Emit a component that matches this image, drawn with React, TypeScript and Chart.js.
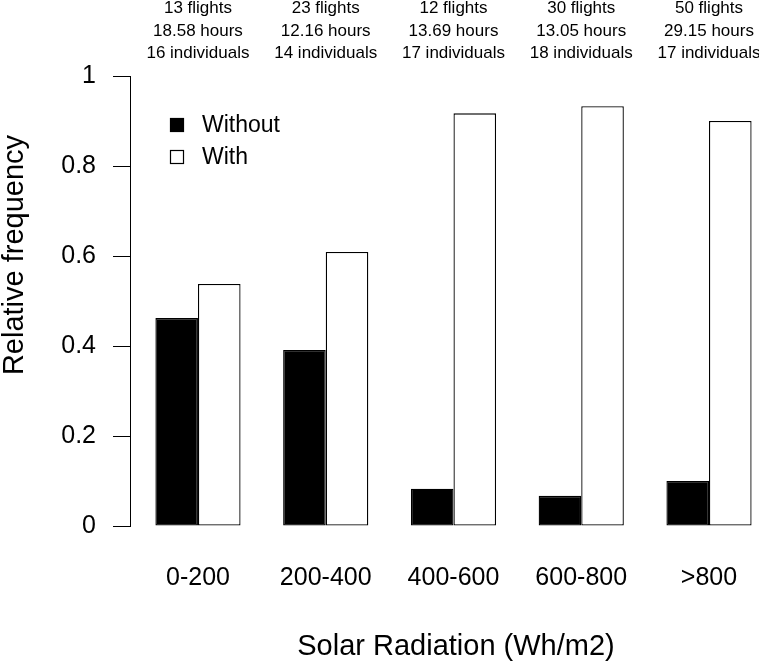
import React, { useEffect, useRef } from "react";
import { Chart, registerables } from "chart.js";

Chart.register(...registerables);

const categories = ["0-200", "200-400", "400-600", "600-800", ">800"];
const withoutValues = [0.462, 0.391, 0.083, 0.067, 0.1];
const withValues = [0.538, 0.609, 0.917, 0.933, 0.9];
const flights = [13, 23, 12, 30, 50];
const hours = ["18.58", "12.16", "13.69", "13.05", "29.15"];
const individuals = [16, 14, 17, 18, 17];
const yTicks = [0, 0.2, 0.4, 0.6, 0.8, 1];
const seriesNames = ["Without", "With"];
const xTitle = "Solar Radiation (Wh/m2)";
const yTitle = "Relative frequency";

const FONT = "'Liberation Sans', Arial, Helvetica, sans-serif";

const positions = categories.map((_, i) => i + 1);

const titlesAndLegend = {
  id: "titlesAndLegend",
  afterDraw(chart: any) {
    const { ctx, chartArea } = chart;
    ctx.save();
    ctx.fillStyle = "#000";
    // y title
    ctx.font = `29px ${FONT}`;
    ctx.textAlign = "center";
    ctx.textBaseline = "middle";
    ctx.save();
    ctx.translate(15, chartArea.top + 179);
    ctx.rotate(-Math.PI / 2);
    ctx.fillText(yTitle, 0, 0);
    ctx.restore();
    // x title
    ctx.fillText(xTitle, chartArea.left + 326, 647);
    // legend
    const lx = chartArea.left + 40;
    const rows = [chartArea.top + 49, chartArea.top + 81];
    const fills = ["#000", "#fff"];
    ctx.font = `23px ${FONT}`;
    ctx.textAlign = "left";
    rows.forEach((cy, i) => {
      ctx.fillStyle = fills[i];
      ctx.fillRect(lx, cy - 7, 14, 14);
      ctx.strokeStyle = "#000";
      ctx.lineWidth = 1.2;
      ctx.strokeRect(lx + 0.5, cy - 6.5, 13, 13);
      ctx.fillStyle = "#000";
      ctx.fillText(seriesNames[i], lx + 32, cy + 1);
    });
    ctx.restore();
  },
};

export default function App() {
  const canvasRef = useRef<HTMLCanvasElement | null>(null);

  useEffect(() => {
    if (!canvasRef.current) return;
    Chart.defaults.font.family = FONT;
    Chart.defaults.color = "#000";
    const chart = new Chart(canvasRef.current, {
      type: "bar",
      data: {
        datasets: [
          {
            label: seriesNames[0],
            data: positions.map((x, i) => ({ x, y: withoutValues[i] })),
            backgroundColor: "#000",
            borderColor: "#000",
            borderWidth: 1.3,
            borderSkipped: false,
          },
          {
            label: seriesNames[1],
            data: positions.map((x, i) => ({ x, y: withValues[i] })),
            backgroundColor: "#fff",
            borderColor: "#000",
            borderWidth: 1.3,
            borderSkipped: false,
          },
        ],
      },
      options: {
        responsive: false,
        animation: false,
        events: [],
        layout: { padding: { right: 4 } },
        datasets: {
          bar: { barPercentage: 1, categoryPercentage: 2 / 3 },
        },
        plugins: {
          legend: { display: false },
          tooltip: { enabled: false },
        },
        scales: {
          x: {
            type: "linear",
            position: "bottom",
            min: 0.468,
            max: 5.36,
            offset: false,
            grid: { display: false, drawTicks: false },
            border: { display: false },
            ticks: {
              stepSize: 1,
              includeBounds: false,
              autoSkip: false,
              maxRotation: 0,
              padding: 37,
              font: { size: 25 },
              color: "#000",
              callback: (v: any) => {
                const i = Math.round(Number(v)) - 1;
                return Math.abs(Number(v) - (i + 1)) < 1e-6 && categories[i] ? categories[i] : "";
              },
            },
            afterFit: (s: any) => {
              s.height = 136;
              s.paddingLeft = 0;
              s.paddingRight = 0;
            },
          },
          xTop: {
            type: "linear",
            position: "top",
            axis: "x",
            min: 0.468,
            max: 5.36,
            offset: false,
            grid: { display: false, drawTicks: false },
            border: { display: false },
            ticks: {
              stepSize: 1,
              includeBounds: false,
              autoSkip: false,
              maxRotation: 0,
              padding: 11,
              font: { size: 17, lineHeight: 1.335 },
              color: "#000",
              callback: (v: any) => {
                const i = Math.round(Number(v)) - 1;
                if (Math.abs(Number(v) - (i + 1)) > 1e-6 || !categories[i]) return "";
                return [
                  `${flights[i]} flights`,
                  `${hours[i]} hours`,
                  `${individuals[i]} individuals`,
                ];
              },
            },
            afterFit: (s: any) => {
              s.height = 76;
              s.paddingLeft = 0;
              s.paddingRight = 0;
            },
          },
          y: {
            type: "linear",
            min: 0,
            max: 1,
            afterBuildTicks: (s: any) => {
              s.ticks = yTicks.map((value) => ({ value }));
            },
            grid: {
              drawOnChartArea: false,
              drawTicks: true,
              tickLength: 17,
              color: "#000",
              lineWidth: 1,
            },
            border: { display: true, color: "#000", width: 1 },
            ticks: {
              padding: 17,
              font: { size: 25 },
              color: "#000",
              callback: (v: any) => String(Math.round(Number(v) * 10) / 10),
            },
            afterFit: (s: any) => {
              s.width = 130;
              s.paddingTop = 0;
              s.paddingBottom = 0;
            },
          },
        },
      } as any,
      plugins: [titlesAndLegend],
    });
    return () => chart.destroy();
  }, []);

  return (
    <div style={{ position: "absolute", left: 0, top: 0, width: 759, height: 662, background: "#fff" }}>
      <canvas ref={canvasRef} width={759} height={662} style={{ display: "block" }} />
    </div>
  );
}
